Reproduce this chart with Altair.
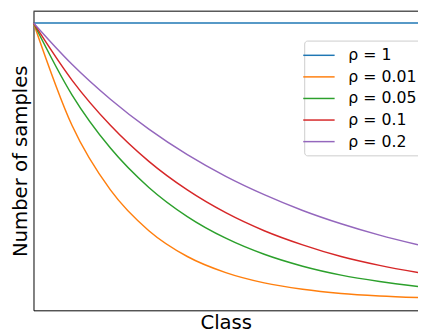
import altair as alt
import pandas as pd

# class positions (fraction of classes, 0..100)
classes = [0, 10, 20, 30, 40, 50, 60, 70, 80, 90, 100]
series_names = ["ρ = 1", "ρ = 0.01", "ρ = 0.05", "ρ = 0.1", "ρ = 0.2"]
rho_1 = [1.0, 1.0, 1.0, 1.0, 1.0, 1.0, 1.0, 1.0, 1.0, 1.0, 1.0]
rho_001 = [1.0, 0.631, 0.398, 0.251, 0.158, 0.100, 0.063, 0.040, 0.025, 0.016, 0.010]
rho_005 = [1.0, 0.741, 0.549, 0.407, 0.302, 0.224, 0.166, 0.123, 0.091, 0.068, 0.050]
rho_01 = [1.0, 0.794, 0.631, 0.501, 0.398, 0.316, 0.251, 0.200, 0.158, 0.126, 0.100]
rho_02 = [1.0, 0.851, 0.725, 0.617, 0.525, 0.447, 0.381, 0.324, 0.276, 0.235, 0.200]
colors = ["#1f77b4", "#ff7f0e", "#2ca02c", "#d62728", "#9467bd"]

rows = []
for name, vals in zip(series_names, [rho_1, rho_001, rho_005, rho_01, rho_02]):
    for c, v in zip(classes, vals):
        rows.append({"cls": c, "n": v, "series": name})
df = pd.DataFrame(rows)

W, H = 392, 305
FONT = "DejaVu Sans"

lines = alt.Chart(df).mark_line(strokeWidth=1.5, interpolate="monotone").encode(
    x=alt.X("cls:Q", scale=alt.Scale(domain=[0, 100], nice=False, zero=False),
            axis=alt.Axis(title="Class", labels=False, ticks=False, grid=False,
                          domainColor="black", domainWidth=1,
                          titleFontSize=20, titleFont=FONT, titleFontWeight="normal",
                          titleColor="black", titleBaseline="alphabetic", titlePadding=19)),
    y=alt.Y("n:Q", scale=alt.Scale(domain=[-0.036, 1.0424], nice=False, zero=False),
            axis=alt.Axis(title="Number of samples", labels=False, ticks=False, grid=False,
                          domainColor="black", domainWidth=1,
                          titleFontSize=20, titleFont=FONT, titleFontWeight="normal",
                          titleColor="black", titleBaseline="alphabetic", titlePadding=7)),
    color=alt.Color("series:N", sort=series_names,
                    scale=alt.Scale(domain=series_names, range=colors),
                    legend=alt.Legend(title=None, orient="none", legendX=276, legendY=30,
                                      symbolType="M-2,0H2", symbolSize=256, symbolStrokeWidth=1.5,
                                      symbolFillColor="transparent",
                                      labelFontSize=16, labelFont=FONT, labelColor="black",
                                      labelOffset=21, rowPadding=5, padding=6,
                                      strokeColor="#cccccc", cornerRadius=3, fillColor="white")),
    order=alt.Order("cls:Q"),
)

top = alt.Chart(pd.DataFrame({"k": [0]})).mark_rule(color="black", strokeWidth=1).encode(
    x=alt.value(0), x2=alt.value(W), y=alt.value(0)
)

chart = alt.layer(lines, top).properties(
    width=W, height=H,
    autosize=alt.AutoSizeParams(type="none"),
    padding={"left": 26, "top": 0, "right": 0, "bottom": 26},
).configure_view(stroke=None)

chart.save("out.html", embed_options={"renderer": "svg", "actions": False})
